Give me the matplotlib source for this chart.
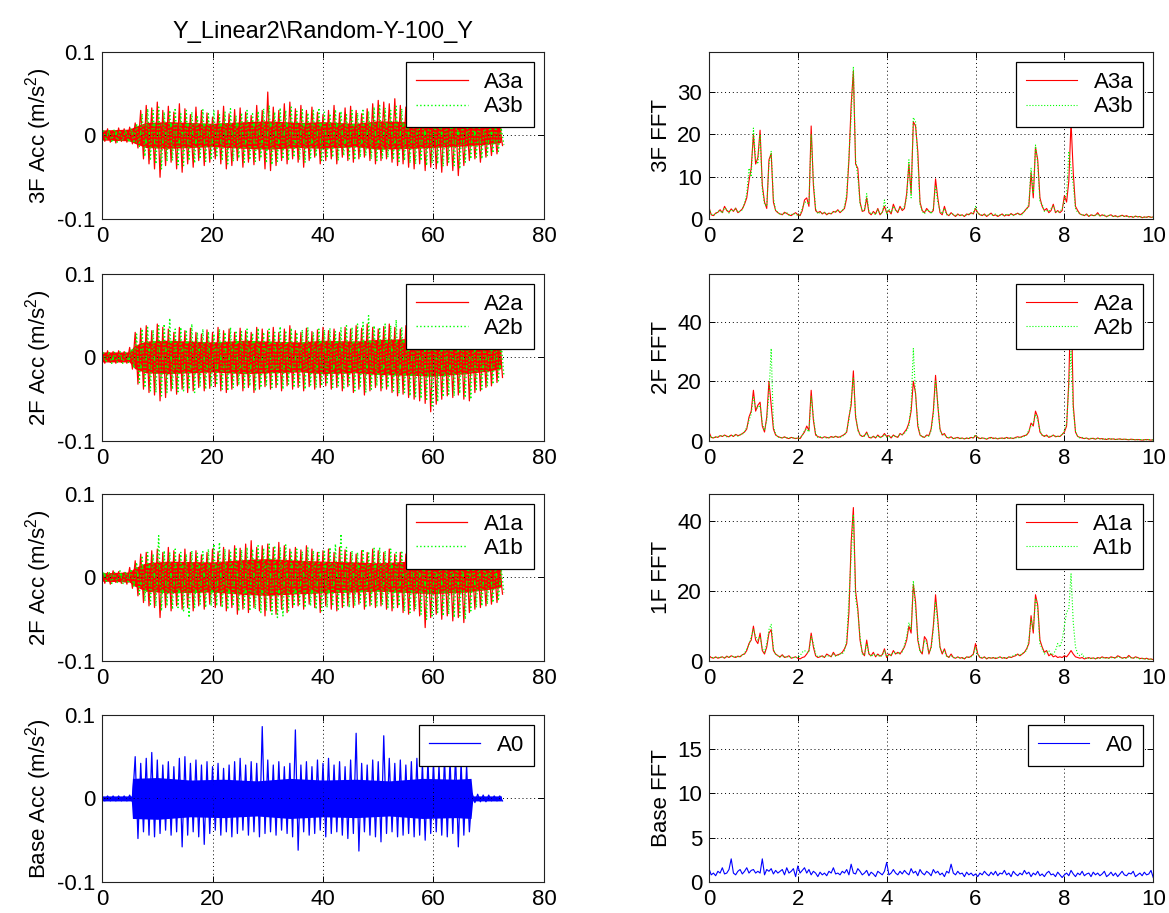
"""
Shake-table record Y_Linear2\\Random-Y-100_Y: floor accelerations (left)
and their FFT amplitude (right), MATLAB-style 4x2 layout.
"""

import numpy as np
import matplotlib
matplotlib.use("Agg")
import matplotlib.pyplot as plt

plt.rcParams["font.family"] = ["Liberation Sans", "DejaVu Sans"]
plt.rcParams["font.size"] = 16
plt.rcParams["axes.unicode_minus"] = False
plt.rcParams["mathtext.fontset"] = "custom"
plt.rcParams["mathtext.rm"] = "Liberation Sans"
plt.rcParams["mathtext.it"] = "Liberation Sans"
plt.rcParams["hatch.linewidth"] = 1.2

TITLE = "Y_Linear2\\Random-Y-100_Y"

# ── Time histories: peak envelope per second, t = 0 … 72 s ──────────────────
t_sec = list(range(73))

a3a_hi = [0.007, 0.008, 0.006, 0.009, 0.008, 0.010, 0.015, 0.030, 0.036, 0.033,
          0.040, 0.030, 0.035, 0.028, 0.038, 0.032, 0.025, 0.034, 0.030, 0.027,
          0.022, 0.030, 0.035, 0.026, 0.031, 0.033, 0.028, 0.024, 0.036, 0.030,
          0.052, 0.034, 0.030, 0.038, 0.040, 0.032, 0.036, 0.030, 0.034, 0.028,
          0.025, 0.030, 0.036, 0.027, 0.033, 0.035, 0.030, 0.026, 0.032, 0.038,
          0.042, 0.040, 0.038, 0.044, 0.036, 0.034, 0.030, 0.032, 0.028, 0.030,
          0.030, 0.026, 0.032, 0.028, 0.024, 0.022, 0.020, 0.024, 0.018, 0.020,
          0.018, 0.016, 0.010]
a3a_lo = [-0.007, -0.008, -0.009, -0.007, -0.008, -0.010, -0.015, -0.028, -0.034, -0.040,
          -0.050, -0.036, -0.032, -0.040, -0.044, -0.034, -0.038, -0.030, -0.036, -0.032,
          -0.028, -0.034, -0.040, -0.036, -0.030, -0.038, -0.032, -0.035, -0.030, -0.040,
          -0.042, -0.036, -0.030, -0.034, -0.028, -0.032, -0.038, -0.030, -0.026, -0.034,
          -0.030, -0.028, -0.034, -0.026, -0.030, -0.032, -0.028, -0.026, -0.030, -0.034,
          -0.030, -0.028, -0.032, -0.036, -0.034, -0.038, -0.040, -0.034, -0.042, -0.038,
          -0.040, -0.044, -0.036, -0.042, -0.048, -0.036, -0.030, -0.028, -0.032, -0.026,
          -0.024, -0.022, -0.012]
a3b_hi = [0.006, 0.007, 0.008, 0.006, 0.007, 0.009, 0.014, 0.026, 0.032, 0.030,
          0.034, 0.028, 0.030, 0.033, 0.026, 0.030, 0.028, 0.024, 0.031, 0.026,
          0.030, 0.025, 0.028, 0.032, 0.024, 0.027, 0.030, 0.026, 0.029, 0.032,
          0.036, 0.028, 0.033, 0.030, 0.034, 0.029, 0.031, 0.027, 0.030, 0.033,
          0.028, 0.026, 0.031, 0.029, 0.025, 0.030, 0.027, 0.032, 0.029, 0.034,
          0.036, 0.033, 0.030, 0.035, 0.032, 0.030, 0.027, 0.029, 0.026, 0.028,
          0.025, 0.028, 0.024, 0.026, 0.022, 0.020, 0.022, 0.018, 0.020, 0.017,
          0.016, 0.014, 0.009]
a3b_lo = [-0.006, -0.007, -0.008, -0.006, -0.007, -0.009, -0.013, -0.025, -0.030, -0.034,
          -0.040, -0.031, -0.030, -0.035, -0.036, -0.030, -0.033, -0.028, -0.031, -0.029,
          -0.026, -0.030, -0.034, -0.031, -0.027, -0.032, -0.029, -0.031, -0.027, -0.033,
          -0.035, -0.031, -0.028, -0.030, -0.026, -0.029, -0.032, -0.027, -0.025, -0.030,
          -0.027, -0.026, -0.030, -0.024, -0.028, -0.029, -0.026, -0.024, -0.028, -0.030,
          -0.027, -0.026, -0.029, -0.031, -0.030, -0.033, -0.034, -0.030, -0.036, -0.033,
          -0.034, -0.037, -0.032, -0.036, -0.040, -0.032, -0.028, -0.026, -0.028, -0.024,
          -0.021, -0.019, -0.011]

a2a_hi = [0.007, 0.008, 0.007, 0.008, 0.007, 0.012, 0.030, 0.035, 0.038, 0.032,
          0.040, 0.036, 0.034, 0.030, 0.036, 0.032, 0.035, 0.030, 0.028, 0.033,
          0.030, 0.036, 0.032, 0.034, 0.030, 0.035, 0.032, 0.030, 0.036, 0.034,
          0.032, 0.036, 0.030, 0.034, 0.038, 0.032, 0.030, 0.035, 0.031, 0.033,
          0.036, 0.032, 0.034, 0.030, 0.036, 0.034, 0.038, 0.035, 0.040, 0.036,
          0.034, 0.037, 0.040, 0.036, 0.034, 0.038, 0.034, 0.032, 0.036, 0.034,
          0.032, 0.030, 0.034, 0.031, 0.033, 0.030, 0.028, 0.032, 0.027, 0.030,
          0.028, 0.026, 0.020]
a2a_lo = [-0.007, -0.006, -0.007, -0.006, -0.007, -0.014, -0.032, -0.038, -0.042, -0.045,
          -0.052, -0.048, -0.040, -0.044, -0.038, -0.042, -0.040, -0.036, -0.040, -0.037,
          -0.035, -0.040, -0.042, -0.038, -0.034, -0.040, -0.036, -0.042, -0.038, -0.035,
          -0.038, -0.036, -0.040, -0.034, -0.038, -0.036, -0.040, -0.035, -0.038, -0.036,
          -0.034, -0.038, -0.036, -0.040, -0.035, -0.042, -0.038, -0.045, -0.040, -0.036,
          -0.040, -0.038, -0.042, -0.046, -0.044, -0.048, -0.050, -0.052, -0.055, -0.065,
          -0.056, -0.050, -0.046, -0.048, -0.045, -0.050, -0.052, -0.042, -0.040, -0.036,
          -0.034, -0.030, -0.024]
a2b_hi = [0.006, 0.007, 0.006, 0.007, 0.006, 0.010, 0.028, 0.034, 0.036, 0.033,
          0.038, 0.040, 0.047, 0.034, 0.036, 0.033, 0.040, 0.030, 0.034, 0.031,
          0.028, 0.034, 0.030, 0.036, 0.032, 0.031, 0.034, 0.029, 0.035, 0.030,
          0.034, 0.030, 0.037, 0.032, 0.035, 0.030, 0.033, 0.036, 0.030, 0.034,
          0.033, 0.035, 0.031, 0.036, 0.038, 0.036, 0.040, 0.042, 0.050, 0.038,
          0.036, 0.040, 0.038, 0.045, 0.036, 0.034, 0.036, 0.033, 0.035, 0.032,
          0.034, 0.031, 0.033, 0.030, 0.035, 0.032, 0.030, 0.028, 0.030, 0.026,
          0.027, 0.024, 0.018]
a2b_lo = [-0.006, -0.007, -0.006, -0.007, -0.006, -0.012, -0.030, -0.036, -0.040, -0.042,
          -0.046, -0.042, -0.038, -0.041, -0.040, -0.038, -0.042, -0.034, -0.038, -0.035,
          -0.033, -0.038, -0.040, -0.036, -0.033, -0.038, -0.034, -0.040, -0.036, -0.033,
          -0.036, -0.034, -0.038, -0.032, -0.036, -0.034, -0.038, -0.033, -0.036, -0.034,
          -0.032, -0.036, -0.034, -0.038, -0.033, -0.040, -0.036, -0.042, -0.038, -0.034,
          -0.038, -0.036, -0.040, -0.043, -0.042, -0.046, -0.047, -0.049, -0.052, -0.058,
          -0.053, -0.047, -0.044, -0.046, -0.043, -0.048, -0.050, -0.040, -0.038, -0.034,
          -0.032, -0.028, -0.022]

a1a_hi = [0.007, 0.006, 0.008, 0.007, 0.006, 0.012, 0.020, 0.028, 0.030, 0.032,
          0.034, 0.030, 0.036, 0.032, 0.028, 0.034, 0.030, 0.032, 0.027, 0.030,
          0.034, 0.031, 0.036, 0.033, 0.038, 0.035, 0.040, 0.044, 0.036, 0.038,
          0.040, 0.036, 0.042, 0.038, 0.034, 0.036, 0.033, 0.038, 0.034, 0.030,
          0.032, 0.034, 0.030, 0.036, 0.033, 0.030, 0.028, 0.032, 0.030, 0.034,
          0.032, 0.030, 0.034, 0.028, 0.030, 0.028, 0.030, 0.026, 0.030, 0.028,
          0.026, 0.028, 0.024, 0.026, 0.025, 0.022, 0.024, 0.020, 0.022, 0.019,
          0.018, 0.016, 0.012]
a1a_lo = [-0.007, -0.008, -0.006, -0.007, -0.008, -0.013, -0.022, -0.030, -0.034, -0.036,
          -0.048, -0.036, -0.040, -0.034, -0.038, -0.036, -0.040, -0.034, -0.038, -0.032,
          -0.036, -0.034, -0.040, -0.036, -0.044, -0.038, -0.042, -0.036, -0.040, -0.046,
          -0.040, -0.044, -0.038, -0.042, -0.036, -0.034, -0.038, -0.032, -0.036, -0.042,
          -0.034, -0.038, -0.040, -0.036, -0.034, -0.036, -0.032, -0.038, -0.034, -0.036,
          -0.034, -0.038, -0.040, -0.036, -0.042, -0.044, -0.040, -0.046, -0.060, -0.048,
          -0.044, -0.050, -0.046, -0.052, -0.048, -0.054, -0.042, -0.038, -0.036, -0.034,
          -0.032, -0.030, -0.020]
a1b_hi = [0.006, 0.007, 0.006, 0.008, 0.007, 0.010, 0.018, 0.026, 0.030, 0.028,
          0.050, 0.032, 0.030, 0.034, 0.030, 0.028, 0.032, 0.029, 0.031, 0.034,
          0.040, 0.042, 0.034, 0.032, 0.036, 0.033, 0.036, 0.034, 0.038, 0.035,
          0.040, 0.038, 0.036, 0.039, 0.032, 0.034, 0.031, 0.036, 0.032, 0.030,
          0.033, 0.036, 0.040, 0.052, 0.036, 0.032, 0.030, 0.034, 0.031, 0.035,
          0.036, 0.032, 0.034, 0.030, 0.032, 0.030, 0.032, 0.028, 0.030, 0.029,
          0.028, 0.030, 0.026, 0.028, 0.027, 0.024, 0.026, 0.022, 0.023, 0.020,
          0.019, 0.017, 0.011]
a1b_lo = [-0.006, -0.007, -0.006, -0.008, -0.007, -0.012, -0.020, -0.028, -0.032, -0.034,
          -0.040, -0.034, -0.038, -0.036, -0.040, -0.048, -0.036, -0.032, -0.036, -0.034,
          -0.034, -0.036, -0.038, -0.034, -0.040, -0.036, -0.040, -0.038, -0.042, -0.040,
          -0.044, -0.048, -0.046, -0.040, -0.034, -0.032, -0.036, -0.034, -0.038, -0.040,
          -0.036, -0.034, -0.038, -0.034, -0.036, -0.034, -0.030, -0.036, -0.032, -0.034,
          -0.032, -0.036, -0.038, -0.034, -0.040, -0.042, -0.038, -0.044, -0.050, -0.046,
          -0.042, -0.046, -0.044, -0.048, -0.046, -0.050, -0.040, -0.036, -0.034, -0.032,
          -0.030, -0.028, -0.018]

a0_hi = [0.003, 0.003, 0.003, 0.003, 0.003, 0.004, 0.050, 0.042, 0.048, 0.055,
         0.046, 0.040, 0.044, 0.038, 0.048, 0.050, 0.042, 0.046, 0.040, 0.044,
         0.038, 0.042, 0.036, 0.040, 0.044, 0.048, 0.040, 0.044, 0.042, 0.086,
         0.046, 0.040, 0.044, 0.038, 0.042, 0.082, 0.040, 0.044, 0.038, 0.046,
         0.042, 0.048, 0.040, 0.044, 0.038, 0.046, 0.078, 0.042, 0.040, 0.046,
         0.044, 0.075, 0.048, 0.042, 0.046, 0.040, 0.044, 0.048, 0.042, 0.046,
         0.044, 0.040, 0.048, 0.046, 0.052, 0.044, 0.040, 0.006, 0.005, 0.004,
         0.004, 0.003, 0.003]
a0_lo = [-0.003, -0.003, -0.003, -0.003, -0.003, -0.004, -0.048, -0.040, -0.044, -0.046,
         -0.042, -0.038, -0.044, -0.040, -0.058, -0.044, -0.040, -0.046, -0.055, -0.042,
         -0.038, -0.044, -0.040, -0.046, -0.042, -0.038, -0.044, -0.040, -0.046, -0.042,
         -0.040, -0.044, -0.038, -0.042, -0.046, -0.062, -0.040, -0.044, -0.042, -0.038,
         -0.046, -0.042, -0.040, -0.044, -0.048, -0.042, -0.063, -0.040, -0.044, -0.046,
         -0.052, -0.042, -0.040, -0.046, -0.044, -0.042, -0.046, -0.044, -0.050, -0.042,
         -0.040, -0.044, -0.046, -0.042, -0.058, -0.044, -0.040, -0.005, -0.004, -0.004,
         -0.003, -0.003, -0.003]

# solid inner band of each record (where the trace is too dense to resolve)
core_t = [0, 5, 6, 8, 12, 20, 26, 30, 36, 40, 46, 50, 56, 60, 66, 70, 72.3]
a3_core = [0.006, 0.007, 0.010, 0.015, 0.016, 0.014, 0.016, 0.017, 0.015, 0.016,
           0.014, 0.017, 0.016, 0.015, 0.013, 0.011, 0.009]
a2_core = [0.006, 0.006, 0.014, 0.019, 0.020, 0.018, 0.020, 0.019, 0.018, 0.020,
           0.019, 0.021, 0.022, 0.023, 0.020, 0.017, 0.014]
a1_core = [0.005, 0.006, 0.011, 0.017, 0.019, 0.018, 0.021, 0.022, 0.020, 0.019,
           0.018, 0.017, 0.019, 0.020, 0.018, 0.015, 0.012]
a0_core_t = [0, 5.3, 5.5, 10, 16, 22, 28, 34, 40, 46, 52, 58, 64, 66.8, 67.1, 72.3]
a0_core = [0.003, 0.003, 0.024, 0.025, 0.022, 0.023, 0.021, 0.024, 0.022, 0.023,
           0.021, 0.024, 0.023, 0.024, 0.003, 0.003]

# ── FFT amplitude, read every 0.05 Hz from 0 to 10 Hz ───────────────────────
freq_hz = np.linspace(0, 10, 201)

fft_a3a = [2.8, 1.0, 0.8, 1.4, 1.6, 2.2, 1.5, 3.0, 2.0, 1.6, 2.4, 1.8, 2.6, 1.5, 1.9, 2.4, 3.5, 5.0, 9.0, 12.0,
           20.0, 13.0, 14.5, 21.0, 8.0, 4.0, 2.5, 14.0, 15.5, 4.0, 2.0, 1.5, 1.2, 1.0, 1.6, 1.3, 1.0, 0.8, 1.2, 1.5,
           1.0, 0.8, 2.0, 4.5, 5.0, 3.0, 22.0, 8.0, 2.0, 1.5, 1.8, 1.2, 1.6, 1.0, 1.4, 1.2, 1.8, 1.6, 2.2, 1.5,
           2.0, 2.5, 5.0, 14.0, 27.0, 35.0, 13.0, 12.0, 4.0, 1.8, 2.0, 5.0, 1.5, 1.0, 1.8, 1.2, 2.5, 1.0, 1.6, 3.0,
           1.5, 2.0, 1.2, 3.5, 2.2, 1.5, 3.0, 2.0, 2.5, 6.0, 13.0, 6.0, 23.0, 22.0, 16.0, 4.0, 2.0, 1.5, 2.5, 1.8,
           1.5, 2.0, 9.5, 5.0, 1.5, 1.0, 3.0, 1.2, 0.8, 1.5, 1.0, 0.6, 1.2, 0.8, 1.0, 0.6, 1.2, 1.0, 1.5, 1.2,
           2.5, 1.5, 1.0, 0.8, 1.2, 0.6, 1.0, 1.4, 0.8, 1.0, 0.6, 0.9, 1.2, 0.7, 1.0, 0.8, 1.3, 0.9, 1.1, 1.4,
           1.0, 1.3, 1.8, 2.5, 3.0, 11.0, 5.0, 17.0, 14.0, 5.0, 3.0, 2.0, 2.5, 1.5, 2.0, 3.5, 1.5, 2.0, 1.5, 2.0,
           5.5, 4.0, 9.0, 23.0, 11.0, 3.0, 2.0, 1.2, 1.0, 0.8, 1.2, 0.6, 1.0, 0.8, 0.9, 1.5, 0.7, 1.0, 0.8, 0.6,
           0.8, 1.0, 0.6, 0.8, 0.5, 0.7, 0.9, 0.6, 0.8, 0.5, 0.6, 0.4, 0.7, 0.5, 0.6, 0.3, 0.5, 0.4, 0.6, 0.4,
           0.5]
fft_a3b = [2.5, 1.2, 0.9, 1.2, 1.8, 2.0, 1.4, 2.6, 2.4, 1.4, 2.2, 2.0, 2.4, 1.6, 1.8, 2.2, 3.8, 6.0, 12.0, 10.0,
           21.5, 14.0, 13.0, 20.0, 7.0, 3.5, 3.0, 13.0, 16.0, 5.0, 2.0, 1.6, 1.0, 1.2, 1.4, 1.5, 0.9, 1.0, 1.3, 1.2,
           0.8, 1.0, 2.5, 4.0, 4.0, 3.5, 20.0, 9.0, 2.5, 1.2, 1.6, 1.4, 1.5, 1.2, 1.2, 1.4, 1.6, 1.8, 2.0, 1.8,
           1.8, 3.0, 6.0, 15.0, 24.0, 36.0, 14.0, 10.0, 3.5, 2.0, 2.2, 6.0, 1.8, 1.2, 1.5, 1.0, 2.2, 1.2, 1.4, 4.5,
           1.2, 2.4, 1.5, 3.0, 2.0, 1.8, 2.5, 2.4, 3.0, 5.0, 14.0, 5.0, 24.0, 23.0, 14.0, 3.5, 1.8, 1.2, 2.2, 2.0,
           1.2, 2.5, 8.0, 4.0, 2.0, 1.2, 2.5, 1.0, 1.0, 1.2, 1.2, 0.8, 1.0, 1.0, 0.8, 0.8, 1.0, 1.2, 1.2, 1.4,
           3.0, 1.2, 1.2, 0.9, 1.0, 0.8, 1.2, 1.0, 0.9, 1.2, 0.8, 1.0, 1.0, 0.8, 1.2, 1.0, 1.1, 0.8, 1.2, 1.2,
           1.2, 1.0, 2.0, 2.2, 3.5, 12.0, 6.0, 17.5, 13.0, 4.0, 3.5, 1.8, 2.0, 1.8, 2.5, 3.0, 1.8, 1.6, 1.8, 2.4,
           4.5, 6.0, 16.0, 12.0, 8.0, 2.5, 1.5, 1.4, 0.8, 1.0, 1.0, 0.8, 0.8, 1.0, 0.7, 1.2, 0.8, 0.8, 1.0, 0.5,
           0.9, 0.8, 0.7, 0.6, 0.6, 0.8, 0.7, 0.7, 0.6, 0.6, 0.5, 0.5, 0.6, 0.6, 0.5, 0.4, 0.4, 0.5, 0.5, 0.5,
           0.4]
fft_a2a = [3.0, 1.2, 1.0, 1.4, 1.2, 1.8, 1.5, 2.0, 1.6, 1.4, 2.0, 1.5, 2.2, 1.8, 2.0, 2.5, 3.0, 4.0, 8.0, 10.0,
           17.0, 10.0, 12.0, 13.0, 5.0, 3.0, 8.0, 20.0, 12.0, 4.0, 2.0, 1.5, 1.2, 1.0, 1.4, 1.0, 0.8, 1.2, 1.0, 0.8,
           1.0, 0.8, 2.0, 3.0, 5.0, 3.5, 17.0, 7.0, 2.0, 1.5, 1.2, 1.0, 1.4, 1.2, 1.0, 1.5, 1.2, 1.6, 1.2, 1.4,
           1.8, 2.2, 3.0, 8.0, 12.0, 23.5, 8.0, 4.0, 2.0, 1.5, 1.8, 3.0, 1.2, 1.0, 1.6, 1.0, 2.0, 1.2, 1.5, 2.5,
           1.5, 1.8, 1.0, 2.0, 1.5, 1.2, 2.5, 2.0, 3.0, 4.0, 6.0, 10.0, 20.0, 16.0, 5.0, 2.0, 1.5, 1.2, 2.0, 1.8,
           4.0, 10.0, 22.0, 12.0, 4.0, 2.0, 2.5, 1.2, 1.0, 1.4, 0.8, 1.0, 1.2, 0.8, 1.0, 0.7, 1.0, 0.8, 1.2, 1.0,
           1.8, 1.2, 0.8, 1.0, 0.9, 0.6, 1.0, 1.2, 0.8, 1.0, 0.7, 0.9, 1.0, 0.8, 1.2, 0.9, 1.0, 0.8, 1.2, 1.4,
           1.2, 1.5, 1.8, 2.0, 3.0, 6.0, 5.0, 10.0, 8.0, 3.0, 2.0, 1.5, 2.0, 1.2, 1.5, 2.0, 1.4, 1.6, 1.5, 2.2,
           3.0, 5.0, 20.0, 51.0, 12.0, 3.0, 1.5, 1.2, 1.0, 0.8, 1.0, 0.6, 0.8, 0.9, 0.6, 1.0, 0.7, 0.8, 0.6, 0.5,
           0.8, 0.6, 0.7, 0.5, 0.6, 0.7, 0.5, 0.6, 0.5, 0.4, 0.6, 0.5, 0.4, 0.5, 0.4, 0.3, 0.4, 0.5, 0.4, 0.3,
           0.4]
fft_a2b = [2.5, 1.0, 1.2, 1.2, 1.5, 1.6, 1.8, 1.8, 1.4, 1.6, 1.8, 1.7, 2.0, 1.6, 2.2, 2.2, 3.2, 4.5, 7.0, 9.0,
           15.0, 11.0, 11.0, 12.0, 6.0, 3.5, 7.0, 16.0, 31.0, 5.0, 2.2, 1.4, 1.0, 1.2, 1.2, 1.1, 1.0, 1.0, 1.1, 0.9,
           0.9, 1.0, 1.8, 3.5, 4.0, 3.0, 15.0, 8.0, 2.5, 1.2, 1.4, 1.2, 1.2, 1.0, 1.2, 1.2, 1.4, 1.4, 1.4, 1.2,
           1.6, 2.0, 3.5, 7.0, 14.0, 21.0, 9.0, 3.5, 2.2, 1.6, 1.5, 2.8, 1.4, 1.2, 1.4, 1.2, 1.8, 1.0, 1.4, 2.2,
           1.2, 1.6, 1.2, 1.8, 1.6, 1.4, 2.2, 2.2, 2.6, 3.5, 5.0, 12.0, 31.0, 15.0, 6.0, 2.2, 1.2, 1.4, 1.8, 1.6,
           3.5, 9.0, 20.0, 13.0, 3.5, 2.2, 2.0, 1.4, 1.2, 1.2, 1.0, 0.8, 1.0, 1.0, 0.8, 0.8, 0.9, 1.0, 1.0, 1.2,
           2.0, 1.0, 0.9, 1.0, 0.8, 0.8, 0.9, 1.0, 1.0, 0.8, 0.8, 1.0, 0.8, 1.0, 1.0, 0.8, 1.2, 0.9, 1.0, 1.2,
           1.0, 1.4, 1.6, 2.2, 3.5, 5.0, 6.0, 9.0, 7.0, 3.5, 1.8, 1.8, 1.6, 1.4, 1.8, 1.8, 1.6, 1.4, 1.8, 2.0,
           3.5, 6.0, 18.0, 30.0, 10.0, 3.5, 1.4, 1.0, 1.2, 0.9, 0.8, 0.8, 0.9, 0.7, 0.8, 0.8, 0.8, 0.6, 0.7, 0.6,
           0.7, 0.7, 0.6, 0.6, 0.5, 0.6, 0.6, 0.5, 0.6, 0.5, 0.5, 0.4, 0.5, 0.4, 0.5, 0.4, 0.4, 0.4, 0.5, 0.4,
           0.3]
fft_a1a = [1.5, 1.0, 0.8, 1.2, 0.8, 1.0, 1.2, 0.8, 1.4, 1.0, 1.5, 1.2, 1.0, 1.4, 1.2, 1.8, 2.0, 3.0, 5.0, 6.0,
           10.0, 6.0, 5.0, 8.0, 3.0, 2.0, 4.0, 8.0, 9.0, 3.0, 2.0, 1.5, 1.2, 1.8, 1.0, 1.2, 1.5, 0.8, 1.0, 1.2,
           0.8, 0.6, 1.0, 1.2, 2.0, 3.0, 8.0, 4.0, 1.5, 1.0, 1.2, 1.5, 1.0, 2.0, 1.6, 1.2, 2.5, 1.5, 1.8, 2.0,
           2.5, 3.5, 5.0, 14.0, 34.0, 44.0, 20.0, 15.0, 6.0, 2.5, 1.5, 6.0, 2.0, 1.5, 2.5, 1.2, 2.0, 1.4, 1.8, 3.5,
           1.0, 2.0, 1.5, 3.0, 2.0, 2.5, 2.0, 3.0, 4.0, 6.0, 10.0, 8.0, 22.0, 17.0, 6.0, 3.0, 2.0, 7.0, 6.0, 2.0,
           4.0, 10.0, 19.0, 12.0, 4.0, 2.0, 3.5, 1.5, 1.0, 2.0, 1.0, 0.8, 1.2, 0.8, 1.0, 0.6, 1.2, 1.0, 1.4, 2.0,
           5.0, 2.0, 1.0, 0.8, 1.2, 0.6, 1.0, 0.8, 1.0, 0.7, 0.9, 1.2, 0.8, 1.0, 0.7, 1.2, 1.0, 1.3, 1.5, 2.0,
           1.5, 2.0, 2.5, 3.5, 5.0, 13.0, 8.0, 19.0, 16.0, 6.0, 4.0, 2.5, 3.0, 1.5, 2.0, 1.2, 1.5, 1.0, 1.2, 1.0,
           1.5, 1.2, 2.0, 3.0, 2.0, 1.2, 1.0, 0.8, 1.0, 0.6, 0.8, 1.0, 0.7, 0.9, 0.6, 1.0, 0.8, 1.2, 0.9, 1.0,
           0.8, 1.2, 1.0, 0.9, 1.5, 1.2, 0.8, 1.0, 0.9, 1.6, 1.0, 0.8, 1.2, 1.0, 0.7, 0.8, 0.6, 0.8, 0.5, 0.6,
           0.4]
fft_a1b = [1.2, 1.0, 1.0, 1.0, 1.0, 1.2, 1.0, 1.0, 1.2, 1.2, 1.2, 1.4, 1.2, 1.2, 1.4, 1.6, 2.2, 3.5, 4.5, 7.0,
           9.0, 7.0, 6.0, 7.0, 3.5, 2.5, 5.0, 9.0, 10.5, 3.5, 1.8, 1.6, 1.0, 1.5, 1.2, 1.2, 1.2, 1.0, 1.0, 1.0,
           1.0, 1.5, 2.5, 3.0, 2.5, 2.5, 7.0, 5.0, 2.0, 1.2, 1.4, 1.2, 1.2, 1.6, 1.4, 1.4, 2.0, 1.4, 1.6, 2.2,
           2.0, 3.0, 6.0, 18.0, 30.0, 42.0, 18.0, 14.0, 7.0, 2.0, 1.8, 5.0, 2.2, 1.2, 2.0, 1.5, 1.8, 1.2, 1.6, 3.0,
           1.2, 1.8, 1.6, 2.5, 2.5, 2.0, 2.4, 2.6, 4.5, 7.0, 11.0, 9.0, 23.0, 15.0, 7.0, 2.5, 2.5, 6.0, 5.0, 2.5,
           3.5, 9.0, 17.0, 11.0, 3.5, 2.5, 3.0, 1.2, 1.2, 1.5, 1.0, 1.0, 1.0, 1.0, 0.8, 0.8, 1.0, 1.2, 1.2, 1.8,
           4.0, 1.8, 1.2, 0.9, 1.0, 0.8, 0.9, 1.0, 0.8, 0.9, 1.0, 1.0, 1.0, 0.8, 1.0, 1.0, 1.2, 1.5, 1.8, 1.8,
           1.6, 2.2, 2.5, 3.0, 6.0, 12.0, 9.0, 18.0, 15.0, 5.0, 3.5, 2.0, 2.5, 3.0, 1.8, 2.0, 3.0, 5.0, 4.0, 6.0,
           10.0, 14.0, 15.0, 25.0, 11.0, 4.0, 2.0, 1.5, 2.0, 1.0, 0.8, 0.8, 0.8, 0.8, 0.7, 0.8, 0.8, 1.0, 0.8, 0.8,
           0.8, 1.0, 0.9, 0.8, 1.2, 1.0, 0.8, 0.8, 0.8, 1.2, 0.9, 0.8, 1.0, 0.9, 0.6, 0.7, 0.6, 0.6, 0.5, 0.5,
           0.4]
fft_a0 = [1.5, 0.8, 1.0, 0.7, 1.2, 1.0, 1.6, 0.9, 1.0, 1.4, 2.6, 1.0, 0.8, 1.2, 1.4, 0.9, 1.2, 1.6, 1.0, 1.3,
          1.4, 1.0, 1.2, 1.0, 2.6, 0.8, 1.4, 1.2, 1.5, 0.9, 1.3, 1.0, 1.2, 1.4, 0.8, 1.6, 1.0, 1.2, 1.5, 0.6,
          1.8, 1.0, 1.3, 1.6, 1.0, 1.4, 0.8, 1.2, 1.0, 0.6, 1.1, 0.8, 1.0, 0.7, 1.2, 1.0, 1.6, 0.9, 1.0, 0.8,
          1.2, 1.0, 1.4, 0.8, 2.0, 1.0, 0.9, 1.5, 1.2, 0.8, 1.0, 1.3, 0.7, 1.1, 0.9, 0.6, 1.2, 1.0, 0.8, 1.2,
          2.2, 0.8, 1.0, 1.4, 1.0, 0.8, 1.2, 0.9, 1.3, 1.0, 0.8, 1.5, 1.0, 1.2, 0.7, 1.4, 1.0, 0.8, 1.2, 1.0,
          0.7, 1.4, 1.0, 1.2, 0.8, 1.0, 0.6, 1.2, 1.0, 2.0, 1.0, 0.8, 1.2, 0.9, 1.0, 0.6, 1.1, 0.8, 1.0, 0.7,
          0.9, 0.6, 1.0, 0.8, 1.2, 0.9, 0.7, 1.1, 0.8, 1.2, 0.7, 1.0, 0.9, 1.3, 0.8, 1.0, 0.6, 1.2, 0.9, 0.7,
          1.0, 0.8, 1.3, 0.9, 1.1, 0.6, 1.0, 0.8, 1.2, 0.7, 0.9, 0.6, 1.0, 1.2, 0.8, 0.9, 0.6, 1.1, 0.8, 0.5,
          0.8, 1.0, 0.7, 1.3, 0.9, 0.6, 1.0, 0.8, 1.2, 0.7, 0.9, 1.0, 0.6, 1.1, 0.8, 1.0, 0.7, 0.9, 1.2, 0.6,
          0.8, 1.1, 0.7, 1.0, 0.6, 0.9, 1.2, 0.8, 0.7, 1.0, 0.9, 1.2, 0.6, 0.8, 1.0, 0.7, 1.1, 0.8, 0.9, 1.3,
          0.5]

# ── Panel definitions ────────────────────────────────────────────────────────
time_labels = ["3F Acc (m/s$^2$)", "2F Acc (m/s$^2$)", "2F Acc (m/s$^2$)", "Base Acc (m/s$^2$)"]
fft_labels = ["3F FFT", "2F FFT", "1F FFT", "Base FFT"]
series_names = [["A3a", "A3b"], ["A2a", "A2b"], ["A1a", "A1b"], ["A0"]]
time_series = [[(a3a_hi, a3a_lo), (a3b_hi, a3b_lo)],
               [(a2a_hi, a2a_lo), (a2b_hi, a2b_lo)],
               [(a1a_hi, a1a_lo), (a1b_hi, a1b_lo)],
               [(a0_hi, a0_lo)]]
time_cores = [(core_t, a3_core), (core_t, a2_core), (core_t, a1_core), (a0_core_t, a0_core)]
fft_series = [[fft_a3a, fft_a3b], [fft_a2a, fft_a2b], [fft_a1a, fft_a1b], [fft_a0]]
fft_ymax = [39.5, 56.0, 47.9, 18.8]
fft_yticks = [[0, 10, 20, 30], [0, 20, 40], [0, 20, 40], [0, 5, 10, 15]]

LINE_STYLES = {1: [dict(color="#0000ff", ls="-")],
               2: [dict(color="#ff0000", ls="-"), dict(color="#00ff00", ls=":")]}

# figure-fraction positions of the MATLAB subplots
COL_LEFT = [0.0873, 0.6065]
COL_WIDTH = [0.378, 0.380]
ROW_BOTTOM = [0.7601, 0.5170, 0.2760, 0.0340]
ROW_HEIGHT = 0.1830


def zigzag(hi, lo, shift):
    """Peak envelope -> stroke path: max at t, min half a second later."""
    t = np.asarray(t_sec, dtype=float) + shift
    x = np.column_stack([t, t + 0.5]).ravel()
    y = np.column_stack([hi, lo]).ravel()
    return x, y


def style_axes(ax):
    ax.tick_params(direction="in", top=True, right=True, length=4, width=0.7, pad=5)
    ax.grid(True, color="black", linestyle=(0, (1, 3)), linewidth=0.7)
    for sp in ax.spines.values():
        sp.set_linewidth(0.8)
        sp.set_color("#222222")


def add_legend(ax, handles, names):
    leg = ax.legend(handles, names, loc="upper right", fancybox=False,
                    edgecolor="black", framealpha=1, borderaxespad=0.45,
                    handlelength=2.3, handletextpad=0.75, borderpad=0.45,
                    labelspacing=0.15)
    leg.get_frame().set_linewidth(0.9)


def main():
    fig = plt.figure(figsize=(11.69, 9.13), dpi=100)

    for r in range(4):
        n = len(series_names[r])
        styles = LINE_STYLES[n]

        # ── left: acceleration time history ─────────────────────────────────
        ax = fig.add_axes([COL_LEFT[0], ROW_BOTTOM[r], COL_WIDTH[0], ROW_HEIGHT])
        ct, camp = time_cores[r]
        camp = np.asarray(camp)
        if n == 2:
            # red/green overlap of the two sensors reads as a speckled band
            ax.fill_between(ct, -camp, camp, facecolor="#ff0000",
                            edgecolor="#00ff00", hatch="..", lw=0)
        else:
            ax.fill_between(ct, -camp, camp, color=styles[0]["color"], lw=0)
        handles = []
        for k, (hi, lo) in enumerate(time_series[r]):
            x, y = zigzag(hi, lo, 0.25 * k)
            h, = ax.plot(x, y, lw=0.9 if k == 0 else 1.0, **styles[k])
            handles.append(h)
        ax.set_xlim(0, 80)
        ax.set_ylim(-0.1, 0.1)
        ax.set_xticks([0, 20, 40, 60, 80])
        ax.set_yticks([-0.1, 0, 0.1], ["-0.1", "0", "0.1"])
        ax.set_ylabel(time_labels[r], labelpad=2)
        style_axes(ax)
        add_legend(ax, handles, series_names[r])
        if r == 0:
            ax.set_title(TITLE, fontsize=17, pad=10)

        # ── right: FFT amplitude ────────────────────────────────────────────
        ax = fig.add_axes([COL_LEFT[1], ROW_BOTTOM[r], COL_WIDTH[1], ROW_HEIGHT])
        handles = []
        for k, amp in enumerate(fft_series[r]):
            h, = ax.plot(freq_hz, amp, lw=0.8, **styles[k])
            handles.append(h)
        ax.set_xlim(0, 10)
        ax.set_ylim(0, fft_ymax[r])
        ax.set_xticks([0, 2, 4, 6, 8, 10])
        ax.set_yticks(fft_yticks[r])
        ax.set_ylabel(fft_labels[r], labelpad=4)
        style_axes(ax)
        add_legend(ax, handles, series_names[r])

    fig.savefig("out.png", dpi=100)


if __name__ == "__main__":
    main()
